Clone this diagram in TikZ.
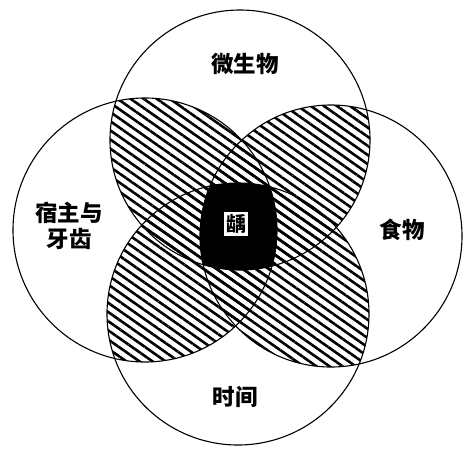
\documentclass[tikz,border=0pt]{standalone}
\usepackage{fontspec}
\newfontfamily\cjk{Noto Sans CJK SC}
\usetikzlibrary{patterns.meta}
\tikzset{
  ring/.style={draw=black, line width=1.1pt},
  hatch/.style={pattern={Lines[angle=-35,distance=7.5pt,line width=2.6pt]}, pattern color=black},
  lbl/.style={font=\cjk\bfseries\fontsize{22.5}{26}\selectfont, align=center, inner sep=0pt},
  core/.style={font=\cjk\bfseries\fontsize{20}{22}\selectfont, fill=white, inner sep=2pt}
}
\begin{document}
\begin{tikzpicture}[x=1pt,y=-1pt]
\useasboundingbox (0,0) rectangle (474,456);
\def\Tc{(240,140) circle (130)}
\def\Lc{(145,230) circle (132)}
\def\Rc{(331,236) circle (131)}
\def\Bc{(238,314) circle (131)}
% hatched lenses of neighbouring circles
\begin{scope}\clip \Tc; \fill[hatch] \Lc; \end{scope}
\begin{scope}\clip \Tc; \fill[hatch] \Rc; \end{scope}
\begin{scope}\clip \Bc; \fill[hatch] \Lc; \end{scope}
\begin{scope}\clip \Bc; \fill[hatch] \Rc; \end{scope}
% black core: common part of all four
\begin{scope}\clip \Tc; \clip \Lc; \clip \Rc; \fill[black] \Bc; \end{scope}
% circles
\draw[ring] \Tc;
\draw[ring] \Lc;
\draw[ring] \Rc;
\draw[ring] \Bc;
% labels
\node[lbl] (mic) at (245,64) {微生物};
\node[lbl] (host) at (69,226) {宿主与\\牙齿};
\node[lbl] (food) at (402,230) {食物};
\node[lbl] (time) at (235,397) {时间};
\node[core] (car) at (236,224) {龋};
\end{tikzpicture}
\end{document}
